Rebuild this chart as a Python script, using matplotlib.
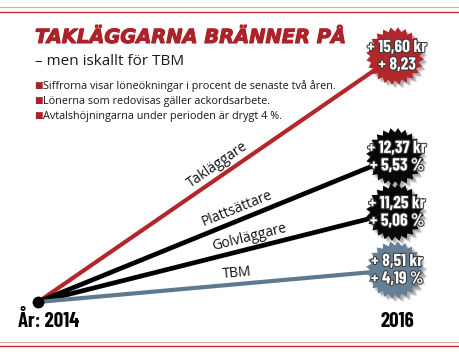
import numpy as np
import matplotlib
matplotlib.use("Agg")
import matplotlib.pyplot as plt
from matplotlib.patches import Polygon
from matplotlib.transforms import Affine2D, ScaledTranslation
import matplotlib.patheffects as pe

# Data
groups = ["Takläggare", "Plattsättare", "Golvläggare", "TBM"]
kr_increase = [15.60, 12.37, 11.25, 8.51]
pct_increase = [8.23, 5.53, 5.06, 4.19]
pct_suffix = ["", " %", " %", " %"]
drawn_rise = [100, 59, 36.5, 13]   # height of each line as drawn (chart is not to scale)
years = [2014, 2016]

bullets = [
    "Siffrorna visar löneökningar i procent de senaste två åren.",
    "Lönerna som redovisas gäller ackordsarbete.",
    "Avtalshöjningarna under perioden är drygt 4 %.",
]

line_colors = ["#b3262b", "#000000", "#000000", "#5f7a8e"]
line_widths = [3.0, 3.4, 3.4, 3.0]
badge_colors = ["#b3262b", "#080808", "#080808", "#667f94"]
red = "#ab2328"

narrow = ["Barlow Condensed", "DejaVu Sans"]
body = ["Open Sans", "DejaVu Sans"]

fig = plt.figure(figsize=(4.6, 3.55), dpi=100)
ax = fig.add_axes([38 / 460, 53 / 355, 357 / 460, 246 / 355])
ax.set_xlim(years[0], years[1])
ax.set_ylim(0, 100)
ax.axis("off")

# frame lines top and bottom
for y, c, lw in [(1 - 7 / 355, "#eaa5a5", 0.8), (1 - 12 / 355, "#c62c31", 1.0),
                 (1 - 342 / 355, "#eaa5a5", 0.8), (1 - 346 / 355, "#c62c31", 1.0)]:
    fig.add_artist(plt.Line2D([0, 1], [y, y], color=c, lw=lw, transform=fig.transFigure))

# lines from 2014 to 2016
for g, rise, c, lw in zip(groups, drawn_rise, line_colors, line_widths):
    ax.plot(years, [0, rise], color=c, lw=lw, solid_capstyle="butt", clip_on=False, zorder=2)
ax.plot([years[0]], [0], "o", color="black", ms=7.5, clip_on=False, zorder=5)

# labels along the lines
label_frac = [0.52, 0.57, 0.60, 0.56]
fig.canvas.draw()
for g, rise, f in zip(groups, drawn_rise, label_frac):
    p0 = ax.transData.transform((years[0], 0))
    p1 = ax.transData.transform((years[1], rise))
    ang = np.arctan2(p1[1] - p0[1], p1[0] - p0[0])
    x = years[0] + f * (years[1] - years[0])
    y = f * rise
    off = 11
    ax.annotate(g, (x, y), xytext=(-np.sin(ang) * off, np.cos(ang) * off),
                textcoords="offset pixels", rotation=np.degrees(ang),
                rotation_mode="anchor", ha="center", va="center",
                fontsize=10, family=body, color="#111111")

# saw blade badges
n_teeth = 24
step = 2 * np.pi / n_teeth
r_in, r_out = 24.5, 29
verts = []
for i in range(n_teeth):
    a = i * step
    verts.append((r_in * np.cos(a), r_in * np.sin(a)))
    verts.append((r_out * np.cos(a + 0.6 * step), r_out * np.sin(a + 0.6 * step)))
verts = np.array(verts)

for i, (rise, bc) in enumerate(zip(drawn_rise, badge_colors)):
    base = Affine2D().scale(fig.dpi / 100.0)
    center = ScaledTranslation(years[1], rise, ax.transData)
    for dx, dy, al in [(4, -4, 0.15), (3, -3, 0.2), (2, -2, 0.25)]:
        sh = Polygon(verts + [dx, dy], closed=True, color="#555555", alpha=al,
                     lw=0, transform=base + center, clip_on=False, zorder=6)
        ax.add_patch(sh)
    ax.add_patch(Polygon(verts, closed=True, color=bc, lw=0,
                         transform=base + center, clip_on=False, zorder=7))
    kr_txt = f"+ {kr_increase[i]:.2f} kr".replace(".", ",")
    pct_txt = f"+ {pct_increase[i]:.2f}{pct_suffix[i]}".replace(".", ",")
    effects = [pe.withStroke(linewidth=1.5, foreground="#3a3a3a")]
    for txt, dy in [(kr_txt, 8.5), (pct_txt, -9)]:
        ax.annotate(txt, (years[1], rise), xytext=(2, dy), textcoords="offset pixels",
                    ha="center", va="center", fontsize=12.5, fontweight="bold",
                    family=narrow, color="white", zorder=8, path_effects=effects)

# title block
fig.text(35 / 460, 1 - 43 / 355, "TAKLÄGGARNA BRÄNNER PÅ", fontsize=14,
         fontweight="bold", style="italic", color=red, family="DejaVu Sans",
         path_effects=[pe.withStroke(linewidth=0.8, foreground=red)])
fig.text(35 / 460, 1 - 65 / 355, "– men iskallt för TBM", fontsize=11,
         family=body, color="#1a1a1a")
for j, b in enumerate(bullets):
    yb = 1 - (89 + 15 * j) / 355
    fig.text(34 / 460, yb + 0.003, "■", fontsize=6.5, color=red, family="DejaVu Sans")
    fig.text(43 / 460, yb, b, fontsize=7.8, family=body, color="#1a1a1a")

# year labels
fig.text(18 / 460, 1 - 327 / 355, "År: 2014", fontsize=15, fontweight="bold",
         family=narrow, color="black")
ax.annotate(str(years[1]), (years[1], 0), xytext=(2, -25), textcoords="offset pixels",
            ha="center", va="baseline", fontsize=15, fontweight="bold",
            family=narrow, color="black")

fig.savefig("out.png", dpi=100)
